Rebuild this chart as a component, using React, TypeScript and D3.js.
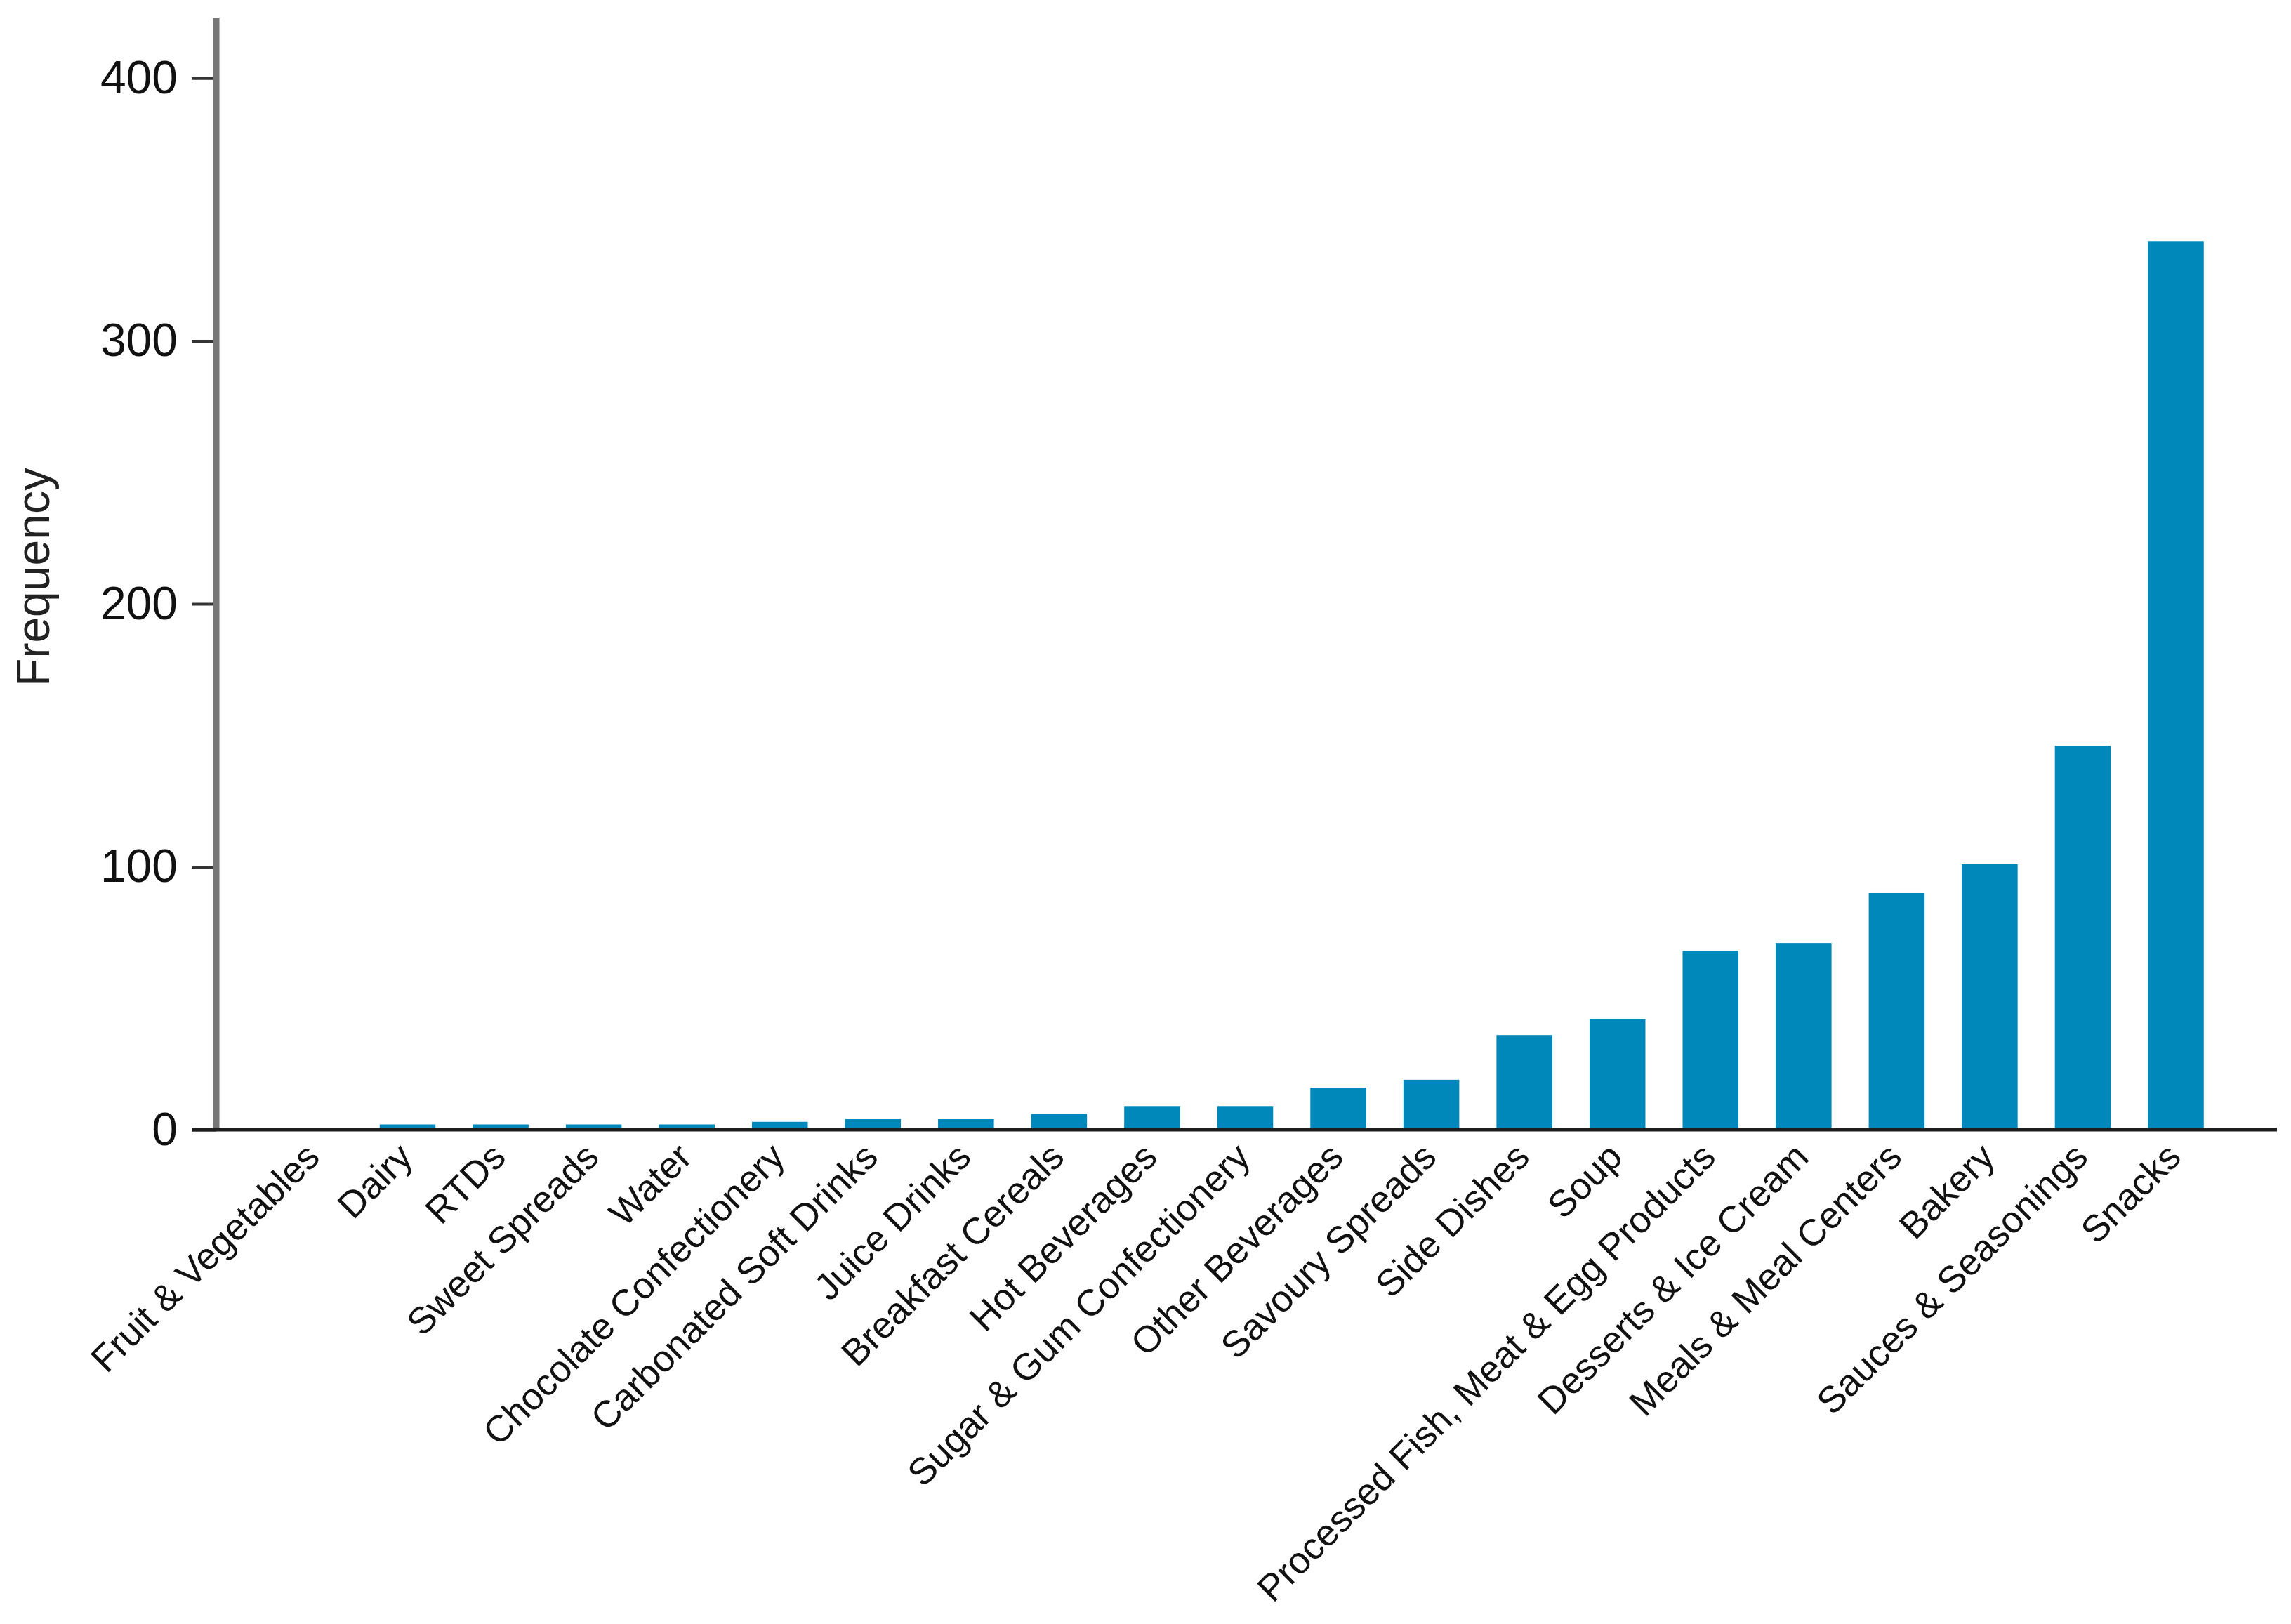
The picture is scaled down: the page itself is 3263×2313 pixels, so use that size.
import { useEffect, useRef } from "react";
import * as d3 from "d3";

const categories = [
    "Fruit & Vegetables", "Dairy", "RTDs", "Sweet Spreads", "Water",
    "Chocolate Confectionery", "Carbonated Soft Drinks", "Juice Drinks", "Breakfast Cereals", "Hot Beverages",
    "Sugar & Gum Confectionery", "Other Beverages", "Savoury Spreads", "Side Dishes", "Soup",
    "Processed Fish, Meat & Egg Products", "Desserts & Ice Cream", "Meals & Meal Centers", "Bakery", "Sauces & Seasonings",
    "Snacks",
];
const frequency = [ 0, 2, 2, 2, 2, 3, 4, 4, 6, 9, 9, 16, 19, 36, 42, 68, 71, 90, 101, 146, 338 ];
const yTicks = [ 0, 100, 200, 300, 400 ];
const yTitle = "Frequency";

const W = 3263;
const H = 2313;
const FONT = "'Liberation Sans', Arial, Helvetica, sans-serif";
const BAR = "#0088bb";

export default function App ()
{
    const svgRef = useRef<SVGSVGElement>( null );

    useEffect( () =>
    {
        if ( !svgRef.current ) return;
        const svg = d3.select( svgRef.current );
        svg.selectAll( "*" ).remove();

        const axisX = 308;
        const zeroY = 1609;
        const topY = 25;

        const x = d3.scaleBand<string>().domain( categories ).range( [ 381.7, 3165.3 ] ).paddingInner( 0.4 ).paddingOuter( 0.2 );
        const y = d3.scaleLinear().domain( [ 0, 423 ] ).range( [ zeroY, topY ] );

        // Bars
        svg.append( "g" ).selectAll( "rect" ).data( frequency ).join( "rect" )
            .attr( "x", ( d, i ) => x( categories[ i ] )! )
            .attr( "y", ( d ) => y( d ) )
            .attr( "width", x.bandwidth() )
            .attr( "height", ( d ) => y( 0 ) - y( d ) )
            .attr( "fill", BAR );

        // Y axis
        const gy = svg.append( "g" ).attr( "transform", `translate(${ axisX },0)` )
            .call( d3.axisLeft( y ).tickValues( yTicks ).tickSize( 35 ).tickPadding( 20 ).tickFormat( d3.format( "d" ) ) );
        gy.select( ".domain" ).remove();
        gy.selectAll( ".tick line" ).attr( "stroke", "#333" ).attr( "stroke-width", 4 );
        gy.selectAll( ".tick text" ).attr( "fill", "#111" ).style( "font-size", "66px" ).style( "font-family", FONT );
        svg.append( "line" ).attr( "x1", axisX ).attr( "x2", axisX ).attr( "y1", topY ).attr( "y2", zeroY )
            .attr( "stroke", "#777" ).attr( "stroke-width", 9 );

        // X axis
        svg.append( "line" ).attr( "x1", axisX - 35 ).attr( "x2", 3243 ).attr( "y1", zeroY ).attr( "y2", zeroY )
            .attr( "stroke", "#1e1e1e" ).attr( "stroke-width", 5 );

        svg.append( "g" ).selectAll( "text" ).data( categories ).join( "text" )
            .attr( "transform", ( d ) => `translate(${ x( d )! + x.bandwidth() / 2 + 10 },${ zeroY + 42 }) rotate(-45)` )
            .attr( "text-anchor", "end" )
            .attr( "fill", "#111" )
            .style( "font-size", "53px" ).style( "font-family", FONT )
            .text( ( d ) => d );

        // Y title
        svg.append( "text" ).attr( "transform", `translate(70,822) rotate(-90)` )
            .attr( "text-anchor", "middle" ).attr( "fill", "#222" )
            .style( "font-size", "66px" ).style( "font-family", FONT )
            .text( yTitle );
    }, [] );

    return (
        <svg ref={ svgRef } width={ W } height={ H } viewBox={ `0 0 ${ W } ${ H }` }
            style={ { position: "absolute", left: 0, top: 0, background: "#fff" } } />
    );
}
